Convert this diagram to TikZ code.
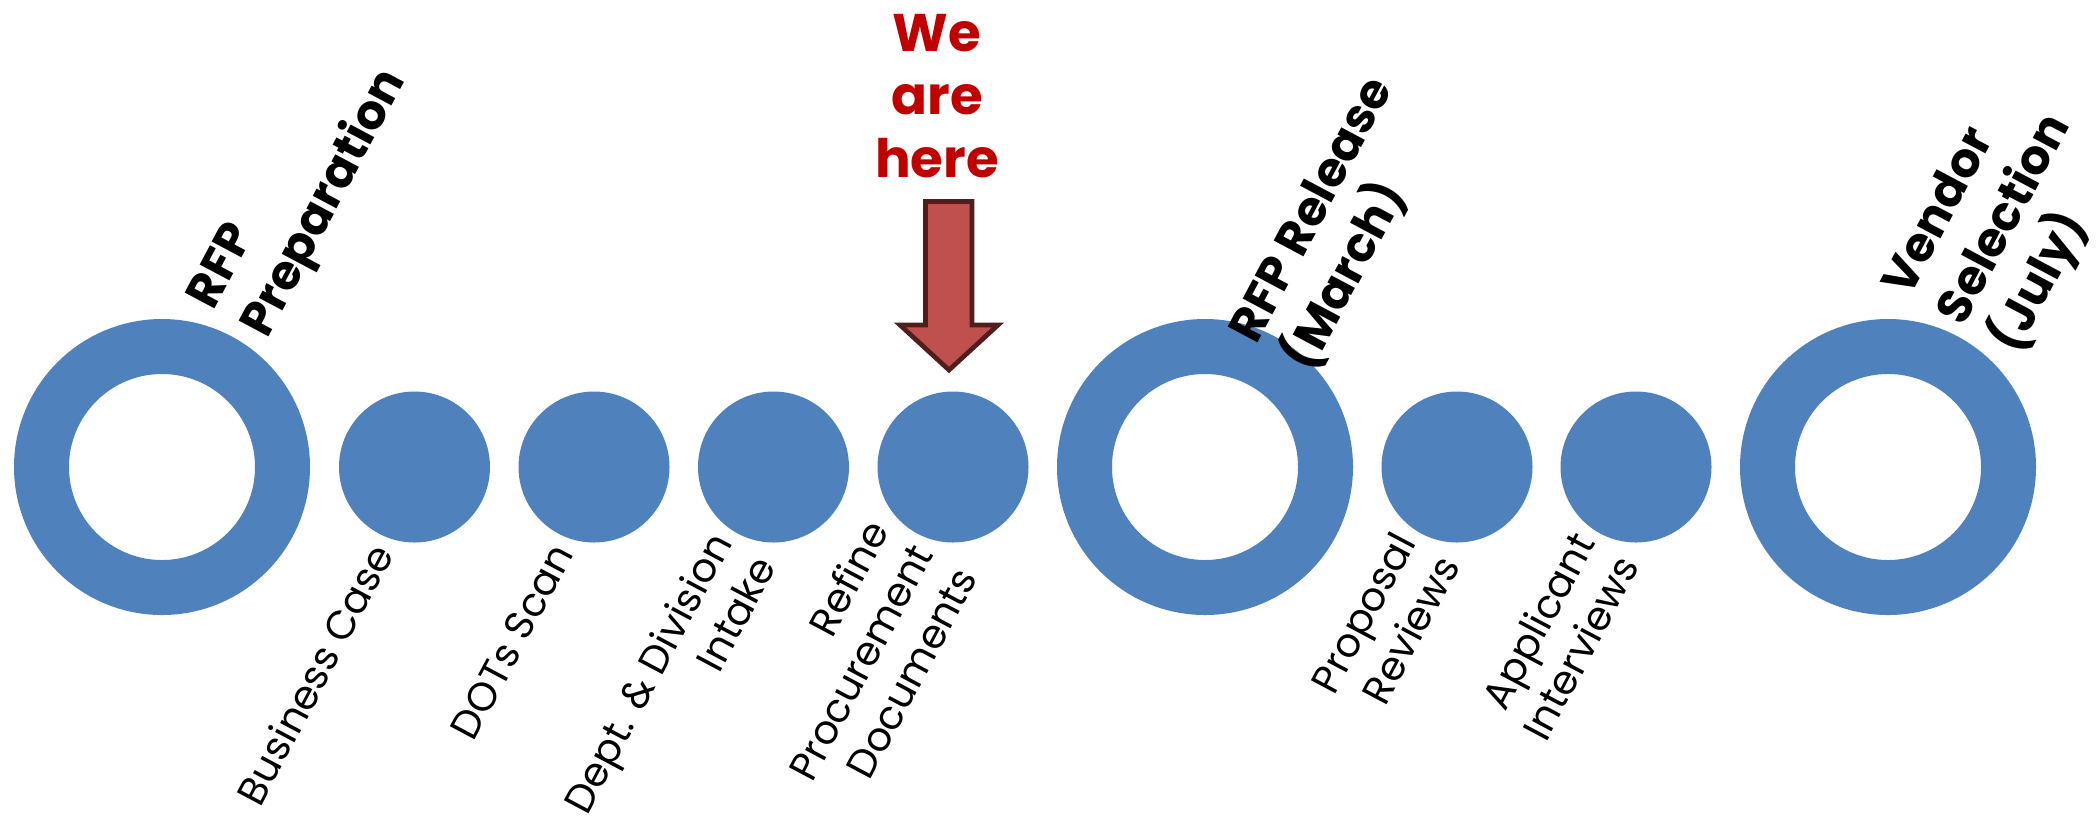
\documentclass[tikz,border=0pt]{standalone}
\usepackage{fontspec}
\setmainfont{Poppins}
\usepackage{tikz}

\begin{document}
\begin{tikzpicture}[x=0.5pt,y=0.5pt,yscale=-1,xscale=1,
    milestone/.style={circle, draw={rgb, 255:red, 79; green, 129; blue, 189 }, line width=27.5pt, minimum size=120.5pt, inner sep=0pt},
    task/.style={circle, fill={rgb, 255:red, 79; green, 129; blue, 189 }, minimum size=75.5pt, inner sep=0pt},
    tasklabel/.style={rotate=62, anchor=east, align=right, inner sep=0pt, font=\fontsize{20}{25}\selectfont},
    milelabel/.style={rotate=62, anchor=west, align=left, inner sep=0pt, font=\fontsize{24}{30.5}\selectfont\bfseries}]
        \useasboundingbox (0,0) rectangle (2100,832); %set diagram to 2100 x 832

        %Shape: Circles along the line
        \node [milestone] (prep) at (162,467) {};
        \node [task] (busc) at (414.5,467) {};
        \node [task] (dots) at (594,467) {};
        \node [task] (dept) at (773.5,467) {};
        \node [task] (refine) at (953,467) {};
        \node [milestone] (release) at (1205,467) {};
        \node [task] (reviews) at (1457,467) {};
        \node [task] (interviews) at (1636,467) {};
        \node [milestone] (vendor) at (1888,467) {};

        %Shape: Down Arrow
        \draw [fill={rgb, 255:red, 192; green, 80; blue, 77 }, draw={rgb, 255:red, 80; green, 30; blue, 29 }, line width=2.35pt, line join=miter]
            (925.5,201.5) -- (972,201.5) -- (972,325) -- (998,325) -- (949,370) -- (900,325) -- (925.5,325) -- cycle ;

        % Text Node
        \node [anchor=north, align=center, inner sep=0pt, text={rgb, 255:red, 192; green, 0; blue, 0 }, font=\fontsize{26.5}{31.5}\selectfont\bfseries] (here) at (937,14) {We\\are\\here};

        % Text Node
        \node [milelabel] (lprep) at (231,321) {RFP\\Preparation};
        % Text Node
        \node [milelabel] (lrelease) at (1272,354) {RFP Release\\(March)};
        % Text Node
        \node [milelabel] (lvendor) at (1953,322) {Vendor\\Selection\\(July)};

        % Text Node
        \node [tasklabel] (lbusc) at (382,547) {Business Case};
        % Text Node
        \node [tasklabel] (ldots) at (562,547) {DOTs Scan};
        % Text Node
        \node [tasklabel] (ldept) at (742,547) {Dept. \& Division\\Intake};
        % Text Node
        \node [tasklabel] (lrefine) at (921,547) {Refine\\Procurement\\Documents};
        % Text Node
        \node [tasklabel] (lreviews) at (1426,547) {Proposal\\Reviews};
        % Text Node
        \node [tasklabel] (linterviews) at (1605,547) {Applicant\\Interviews};

\end{tikzpicture}
\end{document}
